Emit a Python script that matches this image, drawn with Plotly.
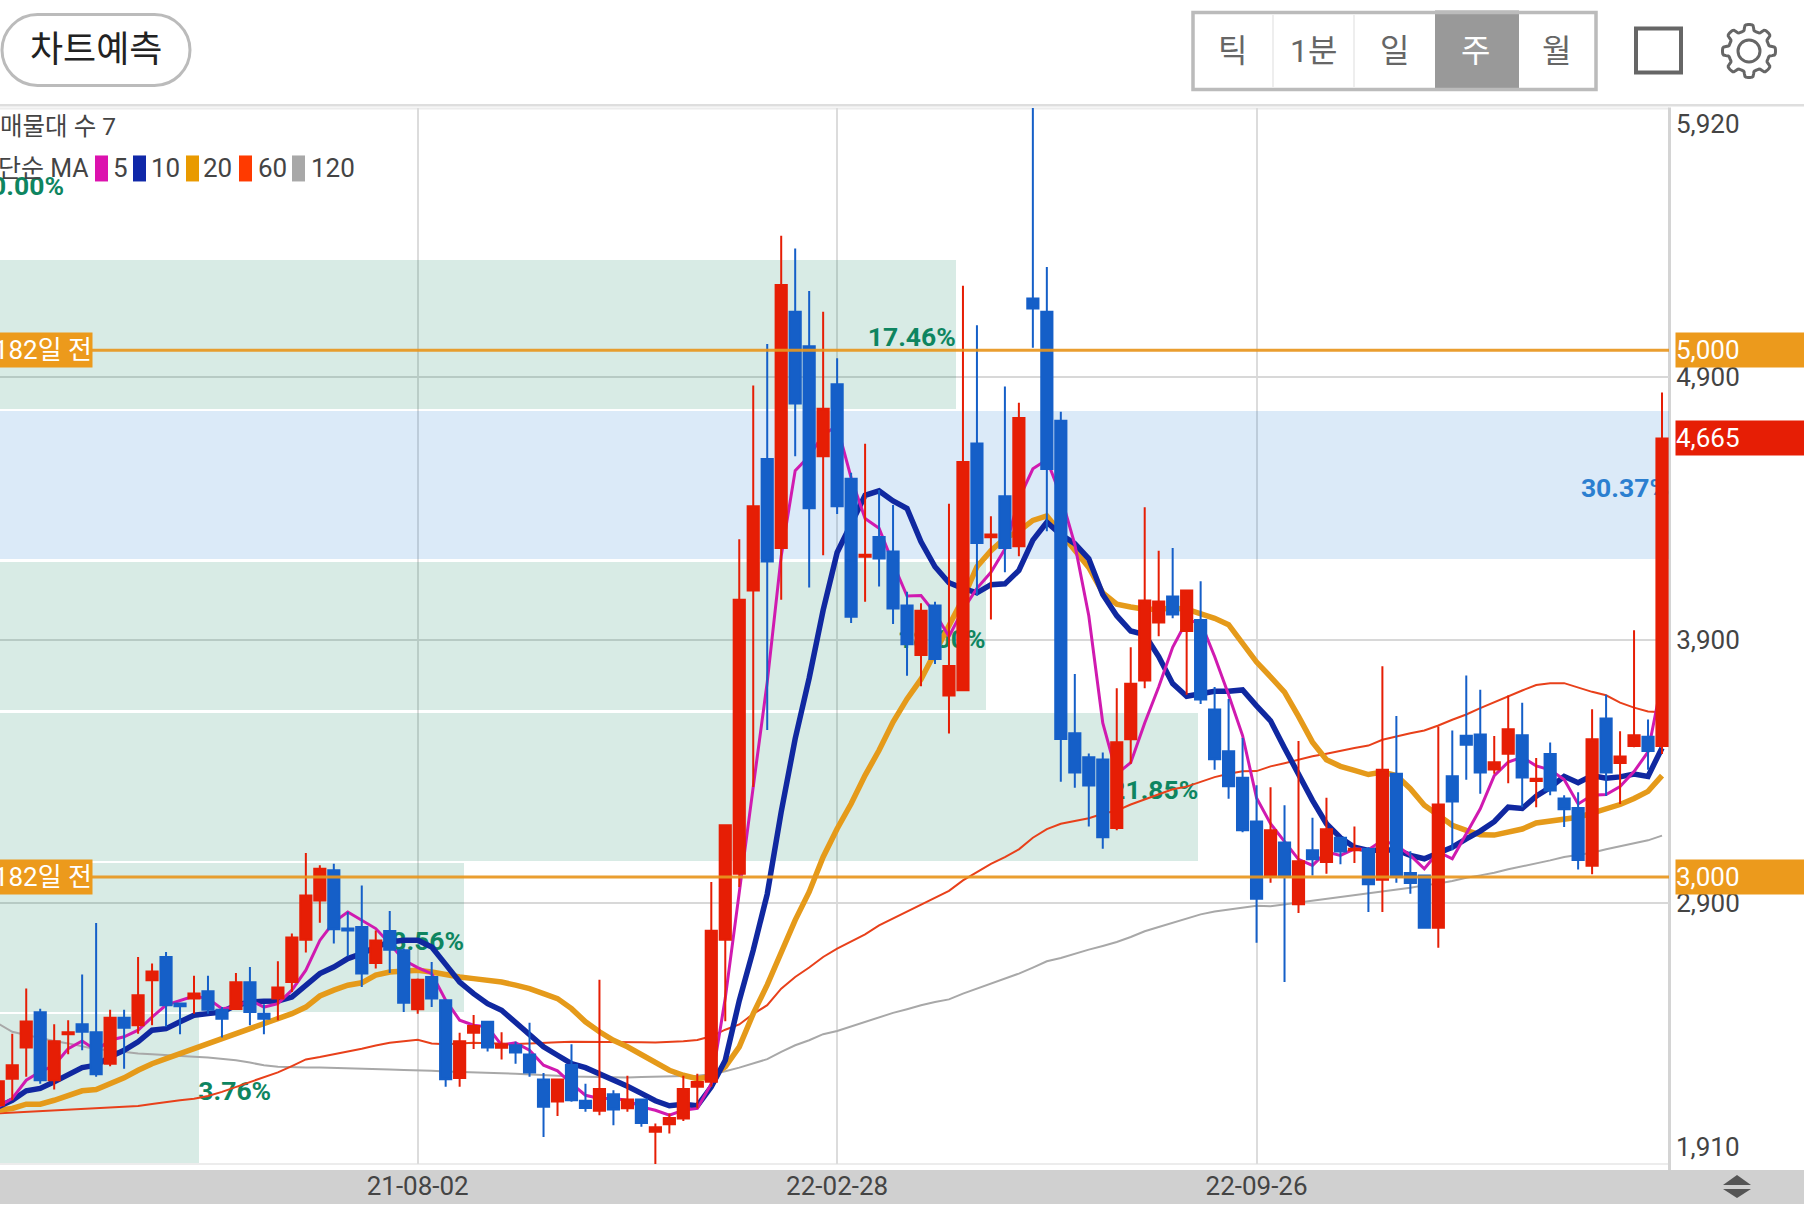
import numpy as np
import plotly.graph_objects as go

# weekly candles, prices
opens = [2133, 2234, 2352, 2486, 2228, 2403, 2441, 2410, 2291, 2465,
         2437, 2608, 2696, 2519, 2538, 2566, 2496, 2499, 2600, 2481,
         2538, 2601, 2762, 2911, 3025, 2804, 2810, 2673, 2795, 2722,
         2498, 2620, 2532, 2237, 2408, 2450, 2351, 2361, 2326, 2231,
         2147, 2286, 2150, 2112, 2175, 2122, 2155, 2032, 2061, 2083,
         2203, 2222, 2762, 3012, 4088, 4587, 4249, 5146, 5015, 4598,
         4871, 4512, 4216, 4291, 4236, 4031, 3843, 4031, 3689, 3709,
         4646, 4290, 4446, 4256, 5197, 5146, 4732, 3546, 3455, 3446,
         3186, 3523, 3746, 3966, 4065, 3934, 3976, 3636, 3477, 3377,
         3211, 3000, 3131, 2896, 3101, 3057, 3149, 3101, 3106, 2989,
         3392, 3015, 3006, 2807, 3382, 3536, 3541, 3408, 3468, 3538,
         3364, 3467, 3298, 3262, 3043, 3602, 3433, 3497, 3532, 3497]
highs = [2224, 2405, 2576, 2500, 2441, 2456, 2630, 2825, 2496, 2496,
         2696, 2671, 2715, 2519, 2625, 2625, 2506, 2635, 2658, 2517,
         2680, 2785, 3091, 3044, 3050, 2867, 2968, 2797, 2871, 2728,
         2614, 2677, 2532, 2408, 2476, 2450, 2410, 2374, 2446, 2256,
         2234, 2365, 2215, 2610, 2190, 2245, 2159, 2064, 2102, 2245,
         2253, 2981, 3200, 4282, 4866, 5024, 5435, 5386, 5225, 5146,
         4970, 4535, 4645, 4469, 4412, 4083, 4039, 4045, 4417, 5245,
         5095, 4370, 4862, 4801, 5920, 5316, 4767, 3771, 3469, 3473,
         3717, 3872, 4404, 4239, 4249, 4088, 4123, 3721, 3676, 3528,
         3348, 3341, 3272, 3516, 3225, 3301, 3151, 3192, 3113, 3800,
         3611, 3098, 3006, 3571, 3556, 3765, 3711, 3535, 3689, 3662,
         3452, 3511, 3310, 3322, 3637, 3692, 3553, 3937, 3598, 4840]
lows = [2127, 2152, 2241, 2215, 2193, 2327, 2342, 2241, 2281, 2272,
        2405, 2437, 2431, 2403, 2481, 2481, 2390, 2496, 2437, 2403,
        2456, 2563, 2713, 2826, 2747, 2699, 2582, 2652, 2635, 2487,
        2481, 2506, 2203, 2203, 2347, 2337, 2307, 2291, 2241, 2013,
        2092, 2146, 2108, 2095, 2057, 2108, 2051, 1910, 2026, 2073,
        2121, 2203, 2452, 2962, 3342, 3558, 4053, 4598, 4099, 4222,
        4378, 3964, 4045, 4103, 3961, 3764, 3724, 3809, 3545, 3705,
        4069, 3978, 4157, 4218, 5010, 4313, 3362, 3339, 3192, 3107,
        3177, 3430, 3717, 3914, 3982, 3692, 3657, 3407, 3297, 3170,
        2750, 2978, 2601, 2863, 3006, 3012, 3048, 3053, 2867, 2867,
        2978, 2936, 2807, 2731, 3101, 3369, 3316, 3392, 3356, 3265,
        3265, 3310, 3190, 3028, 3010, 3307, 3277, 3493, 3407, 3467]
closes = [2224, 2285, 2451, 2228, 2376, 2410, 2412, 2251, 2465, 2427,
          2551, 2641, 2513, 2509, 2557, 2496, 2462, 2600, 2487, 2462,
          2580, 2770, 2930, 3031, 2801, 2797, 2633, 2759, 2724, 2522,
          2610, 2538, 2232, 2376, 2434, 2352, 2365, 2333, 2257, 2127,
          2231, 2152, 2123, 2195, 2117, 2155, 2066, 2050, 2085, 2195,
          2221, 2796, 3196, 4053, 4408, 4198, 5248, 4798, 4400, 4778,
          4408, 3988, 4224, 4209, 4019, 3884, 4011, 3828, 3801, 4576,
          4268, 4300, 4249, 4743, 5159, 4549, 3524, 3397, 3347, 3151,
          3512, 3734, 4050, 4046, 3997, 4088, 3674, 3447, 3344, 3177,
          2917, 3177, 3000, 3060, 3067, 3181, 3097, 3107, 2972, 3407,
          3000, 2977, 2807, 3275, 3287, 3502, 3397, 3436, 3561, 3378,
          3373, 3328, 3257, 3064, 3523, 3397, 3457, 3538, 3478, 4665]

ma5 = [2127, 2159, 2228, 2260, 2285, 2348, 2377, 2342, 2380, 2393,
       2418, 2468, 2513, 2532, 2548, 2538, 2500, 2506, 2532, 2506,
       2519, 2570, 2646, 2759, 2829, 2867, 2835, 2804, 2747, 2684,
       2656, 2633, 2532, 2456, 2437, 2431, 2361, 2370, 2342, 2285,
       2264, 2215, 2171, 2159, 2159, 2152, 2127, 2114, 2095, 2114,
       2121, 2215, 2540, 2950, 3342, 3740, 4218, 4543, 4598, 4679,
       4713, 4516, 4361, 4324, 4191, 4067, 4069, 4002, 3913, 4015,
       4096, 4157, 4245, 4435, 4550, 4584, 4447, 4263, 3992, 3585,
       3391, 3434, 3585, 3721, 3872, 3972, 3968, 3837, 3692, 3537,
       3300, 3202, 3133, 3067, 3044, 3095, 3082, 3107, 3103, 3139,
       3120, 3082, 3031, 3095, 3069, 3164, 3259, 3385, 3436, 3455,
       3422, 3407, 3370, 3277, 3310, 3313, 3343, 3400, 3475, 3745]
ma10 = [2127, 2152, 2188, 2197, 2222, 2251, 2276, 2285, 2317, 2342,
        2374, 2418, 2424, 2450, 2475, 2481, 2487, 2513, 2525, 2528,
        2529, 2544, 2589, 2633, 2658, 2690, 2709, 2734, 2753, 2760,
        2760, 2734, 2668, 2601, 2557, 2519, 2494, 2446, 2399, 2355,
        2323, 2291, 2276, 2253, 2226, 2205, 2178, 2150, 2131, 2137,
        2131, 2203, 2304, 2530, 2722, 2935, 3247, 3525, 3755, 4013,
        4232, 4340, 4449, 4466, 4428, 4399, 4273, 4178, 4117, 4096,
        4079, 4110, 4113, 4164, 4279, 4347, 4300, 4266, 4208, 4073,
        3992, 3934, 3920, 3837, 3734, 3686, 3697, 3705, 3705, 3710,
        3650, 3593, 3490, 3390, 3291, 3202, 3149, 3113, 3101, 3101,
        3103, 3082, 3069, 3091, 3113, 3145, 3174, 3210, 3265, 3260,
        3307, 3340, 3382, 3358, 3385, 3375, 3380, 3391, 3382, 3490]
ma20 = [2114, 2121, 2137, 2137, 2152, 2171, 2188, 2193, 2215, 2237,
        2266, 2291, 2310, 2329, 2348, 2365, 2382, 2405, 2424, 2441,
        2462, 2481, 2506, 2548, 2570, 2589, 2598, 2627, 2639, 2643,
        2646, 2639, 2627, 2620, 2614, 2608, 2601, 2589, 2576, 2557,
        2538, 2500, 2450, 2412, 2380, 2355, 2327, 2294, 2266, 2247,
        2234, 2241, 2279, 2355, 2481, 2590, 2715, 2836, 2943, 3076,
        3183, 3278, 3386, 3481, 3588, 3676, 3751, 3852, 3961, 4056,
        4178, 4239, 4286, 4313, 4354, 4371, 4306, 4239, 4175, 4079,
        4036, 4025, 4017, 4017, 4021, 4017, 4001, 3982, 3958, 3887,
        3816, 3760, 3702, 3610, 3512, 3445, 3420, 3405, 3389, 3398,
        3385, 3335, 3272, 3234, 3196, 3177, 3160, 3159, 3172, 3182,
        3205, 3212, 3224, 3227, 3242, 3257, 3275, 3298, 3325, 3385]
ma60 = [2102, 2105, 2108, 2111, 2114, 2117, 2120, 2122, 2124, 2127,
        2130, 2138, 2146, 2152, 2158, 2168, 2184, 2203, 2219, 2238,
        2258, 2282, 2307, 2316, 2326, 2337, 2348, 2360, 2370, 2376,
        2382, 2368, 2365, 2368, 2370, 2369, 2367, 2366, 2368, 2369,
        2372, 2374, 2374, 2373, 2372, 2372, 2372, 2371, 2373, 2376,
        2381, 2395, 2420, 2440, 2480, 2513, 2576, 2620, 2656, 2696,
        2728, 2756, 2782, 2816, 2842, 2867, 2892, 2920, 2947, 2987,
        3019, 3050, 3075, 3105, 3149, 3182, 3202, 3213, 3223, 3240,
        3252, 3275, 3295, 3314, 3333, 3343, 3362, 3379, 3392, 3401,
        3402, 3420, 3432, 3445, 3458, 3468, 3480, 3490, 3499, 3521,
        3533, 3546, 3556, 3575, 3597, 3617, 3641, 3664, 3688, 3708,
        3729, 3736, 3736, 3718, 3703, 3690, 3662, 3643, 3628, 3625]
ma120 = [2443, 2412, 2400, 2388, 2377, 2368, 2358, 2346, 2342, 2336,
         2330, 2327, 2323, 2320, 2317, 2314, 2310, 2304, 2295, 2285,
         2279, 2277, 2276, 2276, 2275, 2272, 2271, 2270, 2269, 2267,
         2266, 2264, 2261, 2260, 2259, 2257, 2255, 2253, 2251, 2247,
         2245, 2242, 2241, 2240, 2238, 2238, 2240, 2241, 2242, 2243,
         2245, 2251, 2262, 2276, 2291, 2308, 2336, 2361, 2380, 2403,
         2415, 2433, 2449, 2468, 2484, 2498, 2513, 2525, 2535, 2557,
         2576, 2595, 2614, 2633, 2656, 2680, 2692, 2709, 2724, 2738,
         2753, 2772, 2794, 2810, 2826, 2844, 2858, 2869, 2877, 2883,
         2891, 2889, 2896, 2902, 2911, 2918, 2924, 2930, 2937, 2945,
         2952, 2959, 2968, 2975, 2985, 2997, 3006, 3016, 3029, 3040,
         3050, 3063, 3076, 3085, 3092, 3105, 3116, 3126, 3139, 3157]

# volume-profile bands, bottom to top
band_mids = [2196.4, 2769.3, 3342.1, 3915.0, 4487.9, 5060.7, 5633.6]
band_pcts = [3.76, 8.56, 21.85, 18.00, 30.37, 17.46, 0.00]

date_ticks = [30, 60, 90]
date_labels = ["21-08-02", "22-02-28", "22-09-26"]
price_ticks = [2900, 3900, 4900]
price_labels = ["2,900", "3,900", "4,900"]
Y_RANGE = [1910, 5920]
X_RANGE = [0.124, 119.5]
MARKED_PRICES = [5000, 3000]

W, H = 1804, 1205
PLOT_L, PLOT_R, PLOT_T, PLOT_B = 0, 1669, 107.5, 1164
FONT = "Roboto, 'Noto Sans CJK KR', sans-serif"
GREEN, BLUE = "#0e8560", "#2b7fd0"
RED_C, BLUE_C = "#e61e05", "#155fc8"
ORANGE_TAG = "#ec9a1c"
weeks = list(range(len(closes)))
bar_end = [-0.5 + p / max(band_pcts) * 120 for p in band_pcts]


def px(x):
    return x / (PLOT_R - PLOT_L)


def py(y):
    return 1 - (y - PLOT_T) / (PLOT_B - PLOT_T)


def rect(x0, y0, x1, y1, **kw):
    return dict(type="rect", xref="paper", yref="paper", x0=px(x0), x1=px(x1), y0=py(y0), y1=py(y1), **kw)


def label(x, y, text, size=26, color="#444444", anchor="left"):
    return dict(xref="paper", yref="paper", x=px(x), y=py(y), text=text, showarrow=False, xanchor=anchor,
                yanchor="middle", font=dict(family=FONT, size=size, color=color), borderpad=0)


def gear_path(cx, cy, outer=26.5, inner=20.5, teeth=8):
    ang = np.linspace(0, 2 * np.pi, 160, endpoint=False)
    rad = inner + (outer - inner) * (0.5 + 0.5 * np.tanh(3 * np.cos(teeth * ang)))
    xs, ys = cx + rad * np.cos(ang), cy + rad * np.sin(ang)
    pts = [f"{px(a):.5f},{py(b):.5f}" for a, b in zip(xs, ys)]
    return "M" + " L".join(pts) + " Z"


def pill_path(x0, y0, x1, y1):
    r = (y1 - y0) / 2
    k = 0.55 * r
    p = lambda a, b: f"{px(a):.5f},{py(b):.5f}"
    return (f"M{p(x0 + r, y0)} L{p(x1 - r, y0)} C{p(x1 - r + k, y0)} {p(x1, y0 + r - k)} {p(x1, y0 + r)} "
            f"C{p(x1, y0 + r + k)} {p(x1 - r + k, y1)} {p(x1 - r, y1)} L{p(x0 + r, y1)} "
            f"C{p(x0 + r - k, y1)} {p(x0, y0 + r + k)} {p(x0, y0 + r)} "
            f"C{p(x0, y0 + r - k)} {p(x0 + r - k, y0)} {p(x0 + r, y0)} Z")


fig = go.Figure()

# bands sit in the base plot, translucent so the grid shows through
band_colors = ["rgba(30,125,210,0.16)" if p == max(band_pcts) else "rgba(14,133,96,0.16)" for p in band_pcts]
fig.add_trace(go.Bar(y=band_mids, x=[e + 0.5 for e in bar_end], base=-0.5, orientation="h", width=564,
                     marker=dict(color=band_colors, line=dict(width=0)), hoverinfo="skip"))

for i, pct in enumerate(band_pcts):
    if pct == 0:
        tx, pos = 4.7, "middle left"
    elif pct < 5:
        tx, pos = bar_end[i] - 0.05, "middle right"
    else:
        tx, pos = bar_end[i], "middle left"
    color = BLUE if pct == max(band_pcts) else GREEN
    fig.add_trace(go.Scatter(x=[tx], y=[band_mids[i] - 20], mode="text", text=[f"<b>{pct:.2f}%</b>"],
                             textposition=pos, textfont=dict(family=FONT, size=26.5, color=color), hoverinfo="skip"))

fig.add_trace(go.Scatter(x=weeks, y=ma120, mode="lines", line=dict(color="#a8a8a8", width=2)))
fig.add_trace(go.Scatter(x=weeks, y=ma60, mode="lines", line=dict(color="#e8401a", width=2)))
fig.add_trace(go.Scatter(x=weeks, y=ma20, mode="lines", line=dict(color="#e59a1a", width=5.5)))
fig.add_trace(go.Scatter(x=weeks, y=ma10, mode="lines", line=dict(color="#1028a0", width=5.5)))
fig.add_trace(go.Scatter(x=weeks, y=ma5, mode="lines", line=dict(color="#d01ab0", width=3)))

# candles on an overlaying pair of axes so they cover the averages
fig.add_trace(go.Candlestick(x=weeks, open=opens, high=highs, low=lows, close=closes, xaxis="x2", yaxis="y2",
                             increasing=dict(line=dict(color=RED_C, width=2), fillcolor=RED_C),
                             decreasing=dict(line=dict(color=BLUE_C, width=2), fillcolor=BLUE_C),
                             whiskerwidth=0))

shapes = [
    rect(0, 103.5, W, 106, fillcolor="#dedede", line_width=0, layer="below"),
    rect(0, 107, 1669, 109, fillcolor="#ececec", line_width=0, layer="below"),
    rect(0, 1163, 1669, 1165, fillcolor="#ececec", line_width=0, layer="below"),
    rect(0, 1170, W, 1204, fillcolor="#d0d0d0", line_width=0, layer="below"),
    rect(1668, 107, 1671, 1170, fillcolor="#d4d4d4", line_width=0, layer="below"),
    # header buttons
    dict(type="path", xref="paper", yref="paper", path=pill_path(2, 14, 190, 85),
         line=dict(color="#bbbbbb", width=3), fillcolor="white"),
    rect(1435, 10, 1519, 90, fillcolor="#999999", line_width=0),
    rect(1193, 12, 1596, 89, line=dict(color="#bbbbbb", width=3.5)),
    rect(1272, 14, 1274, 87, fillcolor="#eeeeee", line_width=0),
    rect(1353, 14, 1355, 87, fillcolor="#eeeeee", line_width=0),
    rect(1636, 28, 1681, 72, line=dict(color="#666666", width=4)),
    dict(type="path", xref="paper", yref="paper", path=gear_path(1749, 50.5), line=dict(color="#666666", width=3)),
    dict(type="circle", xref="paper", yref="paper", x0=px(1738), x1=px(1760), y0=py(39.5), y1=py(61.5),
         line=dict(color="#666666", width=3)),
    # sort arrows in the bottom bar
    dict(type="path", xref="paper", yref="paper",
         path=f"M{px(1723)},{py(1185)} L{px(1737)},{py(1175)} L{px(1751)},{py(1185)} Z",
         fillcolor="#555555", line_width=0),
    dict(type="path", xref="paper", yref="paper",
         path=f"M{px(1723)},{py(1189)} L{px(1737)},{py(1198)} L{px(1751)},{py(1189)} Z",
         fillcolor="#555555", line_width=0),
]
for price in MARKED_PRICES:
    shapes.append(dict(type="line", xref="paper", yref="y", x0=0, x1=1, y0=price, y1=price,
                       line=dict(color="rgba(232,150,30,0.92)", width=3), layer="above"))

# legend swatches
for x0, color in zip([95, 133, 186, 239, 292], ["#dc12ae", "#1028a8", "#e99a00", "#ff3a00", "#a8a8a8"]):
    shapes.append(rect(x0, 155, x0 + 13, 181, fillcolor=color, line_width=0))

annotations = [
    label(96, 49, "차트예측", size=36, color="#222222", anchor="center"),
    label(1232, 50, "틱", size=32, color="#666666", anchor="center"),
    label(1313, 50, "1분", size=32, color="#666666", anchor="center"),
    label(1394, 50, "일", size=32, color="#666666", anchor="center"),
    label(1475, 50, "주", size=32, color="#ffffff", anchor="center"),
    label(1556, 50, "월", size=32, color="#666666", anchor="center"),
    label(-1, 126, "매물대 수 7", size=24.5),
    label(90, 168, "단순 MA", size=25, anchor="right"),
    label(112, 168, "5"),
    label(150, 168, "10"),
    label(202, 168, "20"),
    label(257, 168, "60"),
    label(310, 168, "120"),
    label(1675, 124, "5,920"),
    label(1675, 1147, "1,910"),
]


def price_tag(price, text, color):
    return dict(xref="paper", yref="y", x=px(1675), y=price, text=text, showarrow=False, xanchor="left",
                yanchor="middle", width=130, height=34, align="left", bgcolor=color, borderpad=0,
                font=dict(family=FONT, size=26, color="white"))


annotations += [price_tag(5000, "5,000", ORANGE_TAG), price_tag(3000, "3,000", ORANGE_TAG),
                price_tag(closes[-1], "4,665", RED_C)]
for price in MARKED_PRICES:
    annotations.append(dict(xref="paper", yref="y", x=px(93), y=price, text="182일 전", showarrow=False,
                            xanchor="right", yanchor="middle", width=110, height=34, align="right",
                            bgcolor=ORANGE_TAG, borderpad=0, font=dict(family=FONT, size=26, color="white")))

fig.update_layout(
    width=W, height=H, autosize=False, showlegend=False, paper_bgcolor="white", plot_bgcolor="white",
    margin=dict(l=PLOT_L, r=W - PLOT_R, t=PLOT_T, b=H - PLOT_B, pad=0),
    boxgap=0, boxgroupgap=0.2, bargap=0, font=dict(family=FONT, color="#444444"), shapes=shapes, annotations=annotations,
    xaxis=dict(range=X_RANGE, tickmode="array", tickvals=date_ticks, ticktext=date_labels, showgrid=True,
               gridcolor="#dcdcdc", gridwidth=1.5, zeroline=False, showline=False, ticks="outside", ticklen=2,
               ticklabelstandoff=-3, tickcolor="rgba(0,0,0,0)", tickfont=dict(family=FONT, size=26, color="#444444")),
    yaxis=dict(range=Y_RANGE, side="right", tickmode="array", tickvals=price_ticks, ticktext=price_labels,
               showgrid=True, gridcolor="#d8d8d8", gridwidth=1.5, zeroline=False, showline=False, ticks="outside",
               ticklen=1, tickcolor="rgba(0,0,0,0)", tickfont=dict(family=FONT, size=26, color="#444444")),
    xaxis2=dict(range=X_RANGE, overlaying="x", visible=False, rangeslider=dict(visible=False)),
    yaxis2=dict(range=Y_RANGE, overlaying="y", visible=False),
)

fig.write_html("out.html", config={"displayModeBar": False}, post_script="document.body.style.margin='0';")
